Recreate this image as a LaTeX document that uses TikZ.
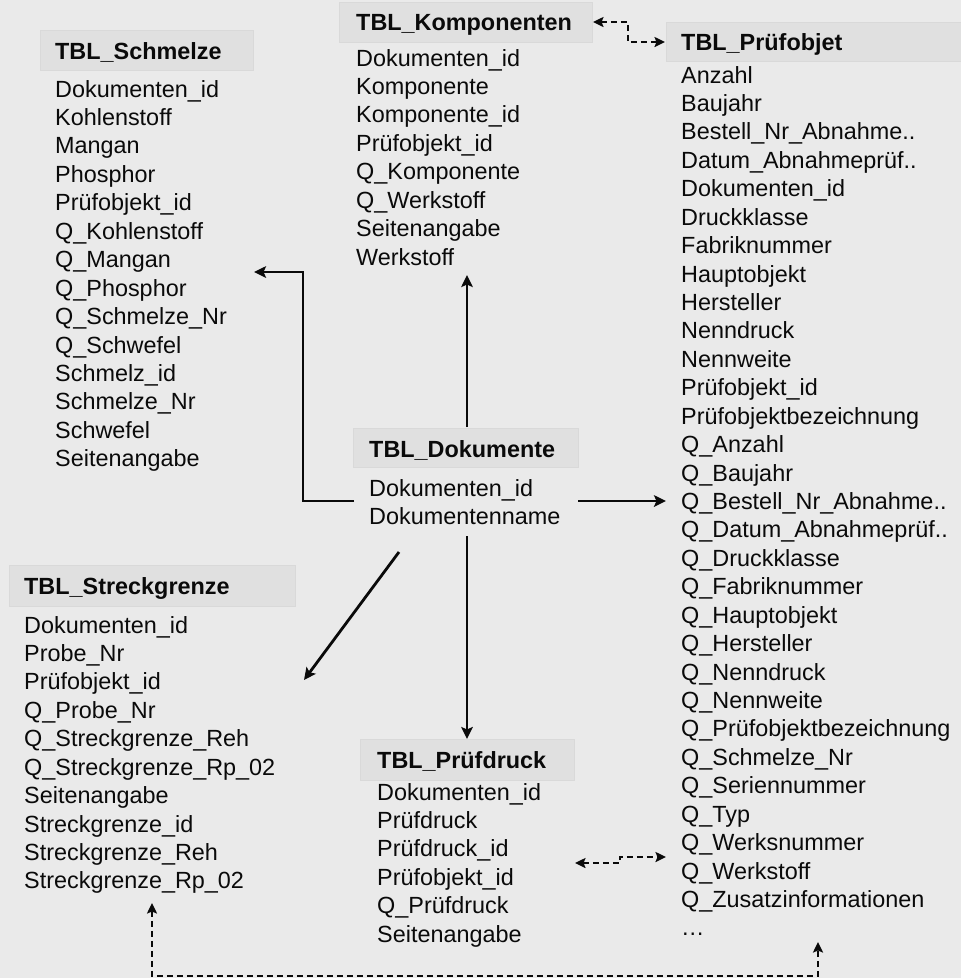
\documentclass[tikz,border=0pt]{standalone}
\usepackage{fontspec}
\setmainfont{Liberation Sans}
\usetikzlibrary{arrows.meta}
\definecolor{bg}{RGB}{234,234,234}
\definecolor{hdrfill}{RGB}{224,224,224}
\definecolor{hdrline}{RGB}{217,217,217}
\definecolor{ink}{RGB}{10,10,10}
\begin{document}
\begin{tikzpicture}[x=1pt,y=-1pt,
  hbox/.style={fill=hdrfill, draw=hdrline, line width=0.6pt, anchor=north west, inner sep=0pt, minimum height=40pt},
  htext/.style={anchor=base west, inner sep=0pt, font=\fontsize{23.4}{28}\selectfont\bfseries, text=ink},
  rowtext/.style={anchor=base west, inner sep=0pt, font=\fontsize{23.4}{28}\selectfont, text=ink},
  tip/.tip={Stealth[length=12pt,width=11.5pt,inset=2.5pt]},
  dtip/.tip={Stealth[length=10.5pt,width=10pt,inset=2pt]},
  link/.style={line width=2.8pt, draw=ink, -tip},
  dlink/.style={line width=2.6pt, draw=ink, dash pattern=on 6.5pt off 3.5pt, dtip-dtip},
]
\fill[bg] (0,0) rectangle (961,978);
\useasboundingbox (0,0) rectangle (961,978);

% ---------- TBL_Schmelze ----------
\node[hbox, minimum width=213pt] (hS) at (40,30) {};
\node[htext] (hSt) at (55,59.3) {TBL\_Schmelze};
\foreach \t [count=\i from 0] in {Dokumenten\_id, Kohlenstoff, Mangan, Phosphor, Prüfobjekt\_id, Q\_Kohlenstoff, Q\_Mangan, Q\_Phosphor, Q\_Schmelze\_Nr, Q\_Schwefel, Schmelz\_id, Schmelze\_Nr, Schwefel, Seitenangabe}
  \node[rowtext] (S\i) at (55,97+28.45*\i) {\t};

% ---------- TBL_Komponenten ----------
\node[hbox, minimum width=253pt] (hK) at (339,2) {};
\node[htext] (hKt) at (356,30.7) {TBL\_Komponenten};
\foreach \t [count=\i from 0] in {Dokumenten\_id, Komponente, Komponente\_id, Prüfobjekt\_id, Q\_Komponente, Q\_Werkstoff, Seitenangabe, Werkstoff}
  \node[rowtext] (K\i) at (356,66+28.43*\i) {\t};

% ---------- TBL_Prüfobjet ----------
\node[hbox, minimum width=305pt, minimum height=39pt] (hP) at (666,22) {};
\node[htext] (hPt) at (681,50) {TBL\_Prüfobjet};
\foreach \t [count=\i from 0] in {Anzahl, Baujahr, Bestell\_Nr\_Abnahme.., Datum\_Abnahmeprüf.., Dokumenten\_id, Druckklasse, Fabriknummer, Hauptobjekt, Hersteller, Nenndruck, Nennweite, Prüfobjekt\_id, Prüfobjektbezeichnung, Q\_Anzahl, Q\_Baujahr, Q\_Bestell\_Nr\_Abnahme.., Q\_Datum\_Abnahmeprüf.., Q\_Druckklasse, Q\_Fabriknummer, Q\_Hauptobjekt, Q\_Hersteller, Q\_Nenndruck, Q\_Nennweite, Q\_Prüfobjektbezeichnung, Q\_Schmelze\_Nr, Q\_Seriennummer, Q\_Typ, Q\_Werksnummer, Q\_Werkstoff, Q\_Zusatzinformationen, …}
  \node[rowtext] (P\i) at (681,83+28.43*\i) {\t};

% ---------- TBL_Dokumente ----------
\node[hbox, minimum width=225pt, minimum height=39pt] (hD) at (353,428) {};
\node[htext] (hDt) at (369,457) {TBL\_Dokumente};
\node[rowtext] (D0) at (369,496) {Dokumenten\_id};
\node[rowtext] (D1) at (369,524.4) {Dokumentenname};

% ---------- TBL_Streckgrenze ----------
\node[hbox, minimum width=286pt, minimum height=41pt] (hG) at (9,565) {};
\node[htext] (hGt) at (24,594) {TBL\_Streckgrenze};
\foreach \t [count=\i from 0] in {Dokumenten\_id, Probe\_Nr, Prüfobjekt\_id, Q\_Probe\_Nr, Q\_Streckgrenze\_Reh, Q\_Streckgrenze\_Rp\_02, Seitenangabe, Streckgrenze\_id, Streckgrenze\_Reh, Streckgrenze\_Rp\_02}
  \node[rowtext] (G\i) at (24,633+28.43*\i) {\t};

% ---------- TBL_Prüfdruck ----------
\node[hbox, minimum width=214pt, minimum height=41pt] (hR) at (360,739) {};
\node[htext] (hRt) at (377,768) {TBL\_Prüfdruck};
\foreach \t [count=\i from 0] in {Dokumenten\_id, Prüfdruck, Prüfdruck\_id, Prüfobjekt\_id, Q\_Prüfdruck, Seitenangabe}
  \node[rowtext] (R\i) at (377,800+28.43*\i) {\t};

% ---------- connector end points ----------
\coordinate (dL)  at (354,501);
\coordinate (dLb) at (303,501);
\coordinate (sT)  at (303,272);
\coordinate (sIn) at (254,272);
\coordinate (dU)  at (467,427);
\coordinate (kIn) at (467,275);
\coordinate (dR)  at (578,501);
\coordinate (pIn) at (666,501);
\coordinate (dDg) at (399,552);
\coordinate (gIn) at (304,680);
\coordinate (dD)  at (467,536);
\coordinate (rIn) at (467,739);
\coordinate (kR)  at (593,22);
\coordinate (kRb) at (628,22);
\coordinate (pLb) at (628,42);
\coordinate (pL)  at (665,42);
\coordinate (rR)  at (575,863);
\coordinate (rRb) at (620,863);
\coordinate (pQb) at (620,857);
\coordinate (pQ)  at (666,857);
\coordinate (gB)  at (152,903);
\coordinate (gBb) at (152,976);
\coordinate (pBb) at (818,976);
\coordinate (pB)  at (818,942);

% ---------- connectors ----------
\draw[link] (dL) -- (dLb) -- (sT) -- (sIn);
\draw[link] (dU) -- (kIn);
\draw[link] (dR) -- (pIn);
\draw[link] (dDg) -- (gIn);
\draw[link] (dD) -- (rIn);
\draw[dlink] (kR) -- (kRb) -- (pLb) -- (pL);
\draw[dlink] (rR) -- (rRb) -- (pQb) -- (pQ);
\draw[dlink] (gB) -- (gBb) -- (pBb) -- (pB);
\end{tikzpicture}
\end{document}
